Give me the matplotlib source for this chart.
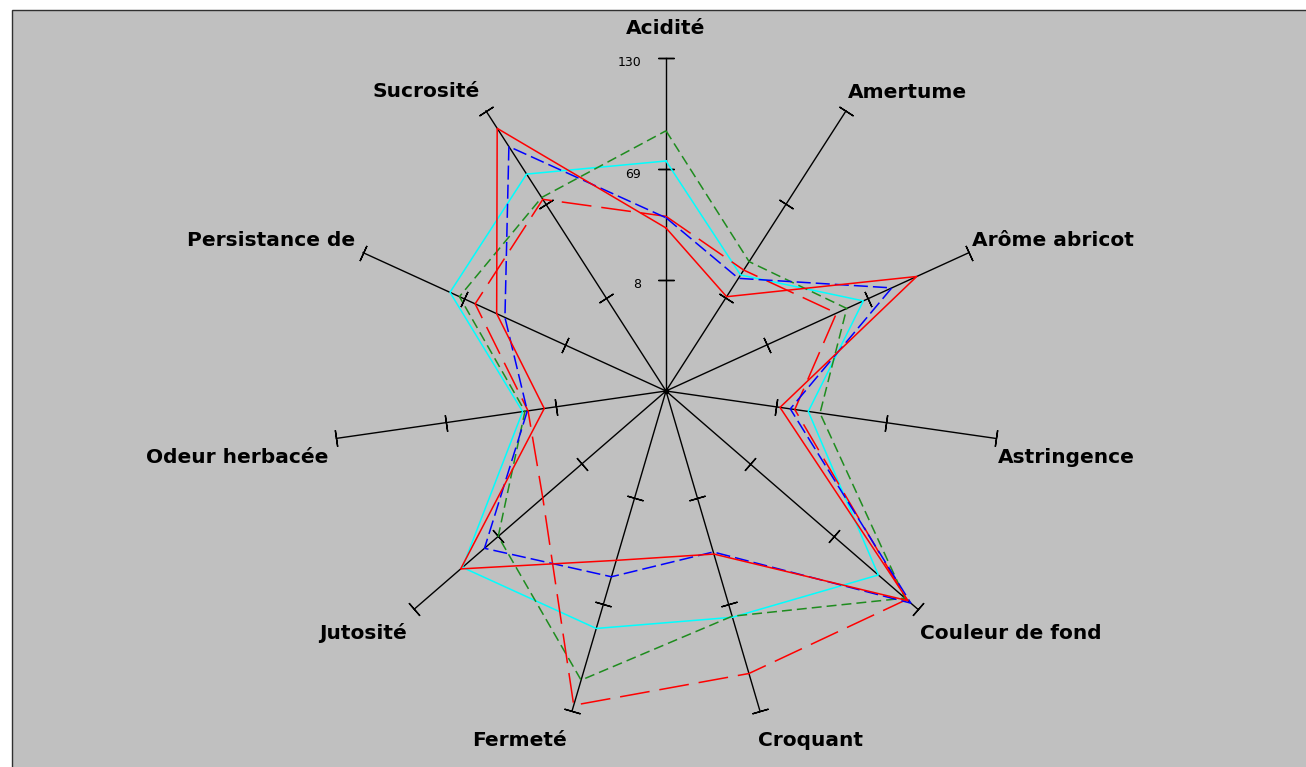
import numpy as np
import matplotlib
matplotlib.use("Agg")
import matplotlib.pyplot as plt
from matplotlib.patches import Rectangle

# ---- data ----
categories = ["Acidité", "Amertume", "Arôme abricot", "Astringence", "Couleur de fond",
              "Croquant", "Fermeté", "Jutosité", "Odeur herbacée", "Persistance de", "Sucrosité"]
series_red_solid = [36.6, 8.6, 98.5, 10.3, 123.0, 40.4, 44.0, 96.3, 14.6, 49.3, 118.6]
series_blue = [42.2, 20.6, 83.4, 16.0, 125.0, 39.2, 53.4, 79.0, 24.0, 44.3, 106.7]
series_green = [90.0, 31.5, 56.2, 32.5, 120.8, 76.0, 112.6, 69.0, 25.3, 71.8, 73.4]
series_cyan = [73.4, 22.8, 66.2, 26.0, 101.4, 76.6, 83.0, 95.0, 26.6, 77.5, 88.7]
series_red_dash = [43.0, 26.0, 50.0, 18.5, 122.0, 108.8, 127.0, 36.6, 23.6, 62.3, 72.2]
r_min, r_max = -53, 130
tick_values = [8, 69, 130]
tick_labels = ["8", "69", "130"]

W, H = 1306, 767
fig = plt.figure(figsize=(W / 100, H / 100), dpi=100, facecolor="white")
fig.patches.append(Rectangle((12 / W, -0.05), 1.0, (H - 10) / H + 0.05,
                             transform=fig.transFigure, facecolor="#c0c0c0",
                             edgecolor="#303030", lw=1.0, zorder=-10))

ax = fig.add_axes([333 / W, 43 / H, 666 / W, 666 / H], projection="polar")
ax.set_zorder(5)
ax.set_theta_zero_location("N")
ax.set_theta_direction(-1)
ax.set_ylim(r_min, r_max)
ax.axis("off")

n = len(categories)
theta = np.arange(n) * 2 * np.pi / n

# spokes and ticks
for th in theta:
    ax.plot([th, th], [r_min, r_max], color="black", lw=1.0, zorder=2, clip_on=False)
    ang = 90 - np.degrees(th)
    for tv in tick_values:
        ax.plot([th], [tv], marker=(2, 2, ang), markersize=12, color="black",
                mew=1.0, zorder=2, linestyle="none", clip_on=False)
ax.plot([0], [r_min], marker="o", markersize=3, color="black", zorder=3, clip_on=False)

# tick labels on first axis
for tv, tl in zip(tick_values, tick_labels):
    ax.annotate(tl, xy=(0, tv), xytext=(-25, -5), textcoords="offset pixels",
                ha="right", va="center", fontsize=9, family="DejaVu Sans",
                annotation_clip=False)

# series
th_c = np.append(theta, theta[0])
def closed(v):
    return np.append(v, v[0])

ax.plot(th_c, closed(series_cyan), color="#00ffff", lw=1.1, zorder=4, clip_on=False)
ax.plot(th_c, closed(series_green), color="#1e8c1e", lw=1.1, dashes=(6.5, 3.3), zorder=4, clip_on=False)
ax.plot(th_c, closed(series_red_dash), color="#ff0000", lw=1.1, dashes=(19.6, 6.5), zorder=4, clip_on=False)
ax.plot(th_c, closed(series_blue), color="#0000ff", lw=1.1, dashes=(9.2, 3.3), zorder=5, clip_on=False)
ax.plot(th_c, closed(series_red_solid), color="#ff0000", lw=1.1, zorder=5, clip_on=False)

# labels
offsets = [(0, 30, "center"), (2, 18, "left"), (3, 12, "left"), (2, -19, "left"),
           (2, -24, "left"), (-2, -30, "left"), (-5, -30, "right"), (-7, -24, "right"),
           (-8, -19, "right"), (-8, 12, "right"), (-6, 19, "right")]
for th, lab, (dx, dy, ha) in zip(theta, categories, offsets):
    ax.annotate(lab, xy=(th, r_max), xytext=(dx, dy), textcoords="offset pixels",
                ha=ha, va="center", fontsize=14.5, fontweight="bold",
                family="DejaVu Sans", annotation_clip=False)

fig.savefig("out.png", dpi=100, facecolor="white")
